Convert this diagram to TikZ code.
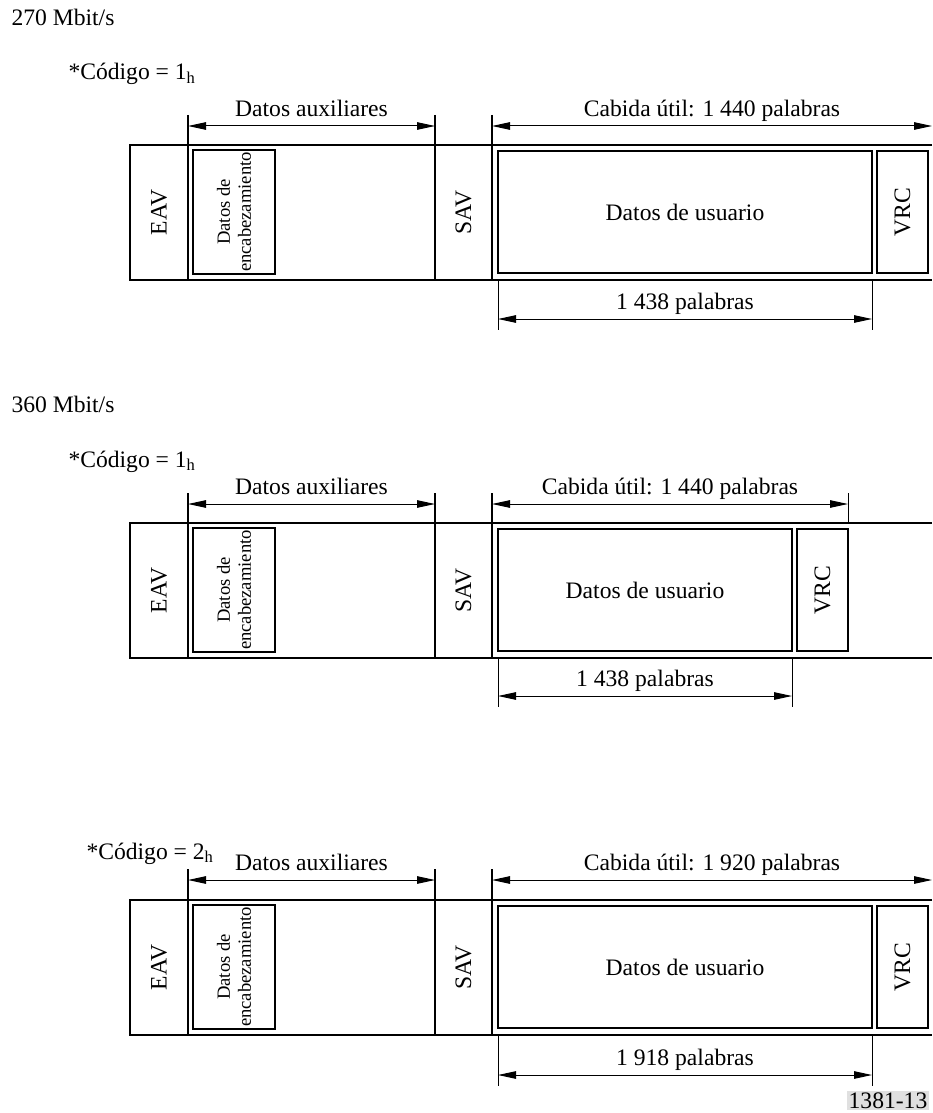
\documentclass[tikz,border=0pt]{standalone}
\usepackage{fontspec}
\setmainfont{Liberation Serif}
\usetikzlibrary{arrows.meta}

\begin{document}
\begin{tikzpicture}[
        x=1pt, y=-1pt,
        font=\fontsize{23.6}{28}\selectfont,
        frame/.style={line width=1.3pt},
        extline/.style={line width=1pt},
        box/.style={
            draw,
            rectangle,
            line width=1.3pt,
            inner sep=0pt,
            align=center
        },
        vtext/.style={rotate=90},
        small/.style={font=\fontsize{18.6}{21}\selectfont},
        dim/.style={{Triangle[length=18pt,width=7.5pt]}-{Triangle[length=18pt,width=7.5pt]}, line width=1pt},
        lbl/.style={anchor=base, yshift=9.5pt},
        title/.style={anchor=base west}
    ]

        \useasboundingbox (0,0) rectangle (932,1113);

        % 270 Mbit/s
        \node[title] (rate1) at (8,26) {270 Mbit/s};
        \node[title] (code1) at (65,80) {*Código = 1\textsubscript{h}};

        \draw[frame] (932,145) -- (130,145) -- (130,280) -- (932,280);
        \draw[frame] (188,115) -- (188,280);
        \draw[frame] (435,115) -- (435,280);
        \draw[frame] (492,115) -- (492,280);

        \node[vtext] (eav1) at (159,212.5) {EAV};
        \node[box, vtext, small, minimum width=124pt, minimum height=82pt] (enc1) at (234,212) {Datos de\\encabezamiento};
        \node[vtext] (sav1) at (463.5,212.5) {SAV};
        \node[box, minimum width=374pt, minimum height=122pt] (usu1) at (685,212) {Datos de usuario};
        \node[box, vtext, minimum width=122pt, minimum height=51pt] (vrc1) at (902.5,212) {VRC};

        \coordinate (aux1l) at (188,126);
        \coordinate (aux1r) at (435,126);
        \coordinate (cab1l) at (492,126);
        \coordinate (cab1r) at (932,126);
        \coordinate (low1l) at (498,319);
        \coordinate (low1r) at (872,319);

        \draw[extline] (498,280) -- (498,330);
        \draw[extline] (872,280) -- (872,330);

        \draw[dim] (aux1l) -- node[lbl] (auxt1) {Datos auxiliares} (aux1r);
        \draw[dim] (cab1l) -- node[lbl] (cabt1) {Cabida útil: 1 440 palabras} (cab1r);
        \draw[dim] (low1l) -- node[lbl] (lowt1) {1 438 palabras} (low1r);

        % 360 Mbit/s
        \node[title] (rate2) at (8,412) {360 Mbit/s};
        \node[title] (code2) at (65,467) {*Código = 1\textsubscript{h}};

        \draw[frame] (932,523) -- (130,523) -- (130,658) -- (932,658);
        \draw[frame] (188,493) -- (188,658);
        \draw[frame] (435,493) -- (435,658);
        \draw[frame] (492,493) -- (492,658);

        \node[vtext] (eav2) at (159,590.5) {EAV};
        \node[box, vtext, small, minimum width=124pt, minimum height=82pt] (enc2) at (234,590) {Datos de\\encabezamiento};
        \node[vtext] (sav2) at (463.5,590.5) {SAV};
        \node[box, minimum width=294pt, minimum height=122pt] (usu2) at (645,590) {Datos de usuario};
        \node[box, vtext, minimum width=122pt, minimum height=51pt] (vrc2) at (822.5,590) {VRC};

        \coordinate (aux2l) at (188,504);
        \coordinate (aux2r) at (435,504);
        \coordinate (cab2l) at (492,504);
        \coordinate (cab2r) at (848,504);
        \coordinate (low2l) at (498,696);
        \coordinate (low2r) at (792,696);

        \draw[extline] (848,493) -- (848,523);
        \draw[extline] (498,658) -- (498,707);
        \draw[extline] (792,658) -- (792,707);

        \draw[dim] (aux2l) -- node[lbl] (auxt2) {Datos auxiliares} (aux2r);
        \draw[dim] (cab2l) -- node[lbl] (cabt2) {Cabida útil: 1 440 palabras} (cab2r);
        \draw[dim] (low2l) -- node[lbl] (lowt2) {1 438 palabras} (low2r);

        % codigo 2h
        \node[title] (code3) at (83,859) {*Código = 2\textsubscript{h}};

        \draw[frame] (932,900) -- (130,900) -- (130,1035) -- (932,1035);
        \draw[frame] (188,869) -- (188,1035);
        \draw[frame] (435,869) -- (435,1035);
        \draw[frame] (492,869) -- (492,1035);

        \node[vtext] (eav3) at (159,967.5) {EAV};
        \node[box, vtext, small, minimum width=124pt, minimum height=82pt] (enc3) at (234,967) {Datos de\\encabezamiento};
        \node[vtext] (sav3) at (463.5,967.5) {SAV};
        \node[box, minimum width=374pt, minimum height=122pt] (usu3) at (685,967) {Datos de usuario};
        \node[box, vtext, minimum width=122pt, minimum height=51pt] (vrc3) at (902.5,967) {VRC};

        \coordinate (aux3l) at (188,880);
        \coordinate (aux3r) at (435,880);
        \coordinate (cab3l) at (492,880);
        \coordinate (cab3r) at (932,880);
        \coordinate (low3l) at (498,1075);
        \coordinate (low3r) at (872,1075);

        \draw[extline] (498,1035) -- (498,1086);
        \draw[extline] (872,1035) -- (872,1086);

        \draw[dim] (aux3l) -- node[lbl] (auxt3) {Datos auxiliares} (aux3r);
        \draw[dim] (cab3l) -- node[lbl] (cabt3) {Cabida útil: 1 920 palabras} (cab3r);
        \draw[dim] (low3l) -- node[lbl] (lowt3) {1 918 palabras} (low3r);

        \node[anchor=south east, fill=black!12, inner sep=1.5pt] (fig) at (929,1110) {1381-13};

    \end{tikzpicture}
\end{document}
